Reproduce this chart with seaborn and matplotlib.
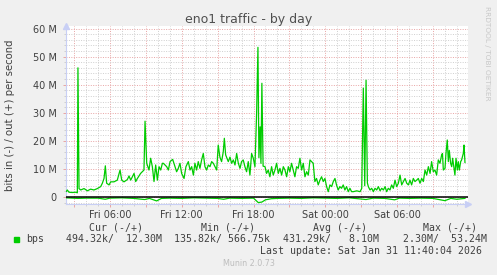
import numpy as np
import pandas as pd
import matplotlib
matplotlib.use("Agg")
import matplotlib.pyplot as plt
from matplotlib.ticker import MultipleLocator, FuncFormatter, FixedLocator
from matplotlib.patches import Rectangle
import seaborn as sns

# ---------------- data (hours since Fri 00:00, values in Mbit/s) ----------------
out_hours = [2.35, 2.43, 2.57, 2.85, 3.13, 3.27, 3.32, 3.41, 3.55, 3.83, 4.11, 4.38, 4.66, 4.94,
             5.22, 5.36, 5.50, 5.61, 5.72, 5.92, 6.06, 6.33, 6.61, 6.84, 6.98, 7.17, 7.45, 7.59,
             7.73, 7.87, 8.01, 8.15, 8.29, 8.56, 8.84, 8.93, 9.07, 9.26, 9.40, 9.54, 9.68, 9.82,
             9.96, 10.10, 10.24, 10.38, 10.46, 10.74, 10.88, 11.02, 11.24, 11.43, 11.57, 11.71,
             11.85, 11.99, 12.19, 12.35, 12.55, 12.69, 12.83, 12.97, 13.10, 13.24, 13.38, 13.52,
             13.66, 13.80, 13.94, 14.08, 14.22, 14.36, 14.50, 14.64, 14.78, 14.92, 15.05, 15.19,
             15.33, 15.47, 15.56, 15.67, 15.89, 16.03, 16.17, 16.31, 16.45, 16.59, 16.73, 16.87,
             17.00, 17.14, 17.28, 17.42, 17.56, 17.70, 17.84, 17.98, 18.12, 18.26, 18.37, 18.45,
             18.55, 18.62, 18.70, 18.80, 18.96, 19.09, 19.23, 19.37, 19.51, 19.65, 19.79, 19.93,
             20.07, 20.21, 20.35, 20.49, 20.63, 20.77, 20.91, 21.04, 21.18, 21.32, 21.46, 21.60,
             21.74, 21.88, 22.02, 22.16, 22.30, 22.44, 22.58, 22.72, 22.86, 22.99, 23.13, 23.27,
             23.41, 23.55, 23.69, 23.83, 23.97, 24.11, 24.25, 24.39, 24.53, 24.67, 24.81, 24.94,
             25.08, 25.22, 25.36, 25.50, 25.64, 25.78, 25.92, 26.06, 26.20, 26.35, 26.63, 26.91,
             27.05, 27.18, 27.30, 27.41, 27.52, 27.60, 27.74, 27.88, 28.02, 28.16, 28.30, 28.44,
             28.58, 28.72, 28.86, 29.00, 29.13, 29.27, 29.41, 29.55, 29.69, 29.83, 29.97, 30.11,
             30.25, 30.39, 30.53, 30.67, 30.81, 30.95, 31.08, 31.22, 31.36, 31.50, 31.64, 31.78,
             31.92, 32.06, 32.20, 32.34, 32.48, 32.62, 32.76, 32.89, 33.03, 33.17, 33.31, 33.45,
             33.59, 33.73, 33.80, 33.87, 34.01, 34.09, 34.20, 34.29, 34.37, 34.48, 34.57, 34.65,
             34.76, 34.84, 34.93, 35.04, 35.12, 35.21, 35.32, 35.40, 35.54, 35.60, 35.68]
out_mbps = [2.0, 2.5, 1.7, 1.6, 1.7, 1.5, 46.0, 3.0, 2.5, 3.0, 2.2, 2.8, 2.5, 3.0,
            3.7, 4.9, 6.6, 11.1, 4.9, 4.3, 5.4, 5.4, 6.0, 9.6, 6.0, 5.4, 6.2, 7.5,
            6.0, 7.2, 8.4, 5.5, 6.6, 8.4, 9.6, 27.0, 12.0, 9.6, 13.8, 10.8, 5.5, 11.4,
            6.0, 10.8, 9.6, 12.0, 12.0, 10.8, 9.6, 12.6, 13.4, 10.8, 9.0, 10.2,
            12.0, 8.4, 6.6, 10.8, 12.6, 9.6, 10.8, 7.8, 12.0, 9.6, 12.6, 10.2,
            13.2, 15.5, 10.8, 9.6, 11.4, 10.8, 12.6, 12.0, 10.8, 9.6, 18.5, 14.2,
            12.6, 16.1, 20.9, 15.0, 12.6, 14.2, 12.0, 13.2, 11.4, 15.5, 12.0, 10.2,
            12.6, 13.2, 10.8, 9.0, 12.6, 7.8, 15.5, 13.8, 10.8, 30.0, 53.3, 14.0,
            25.0, 12.0, 40.5, 11.0, 10.8, 8.4, 9.6, 7.2, 10.8, 7.8, 9.6, 12.0,
            8.4, 10.2, 7.8, 10.8, 9.6, 7.2, 10.8, 9.0, 12.0, 9.6, 7.2, 10.8,
            10.2, 13.8, 9.6, 12.0, 7.2, 9.0, 7.8, 13.2, 12.6, 12.0, 5.5, 6.6,
            4.3, 6.0, 7.2, 5.5, 6.6, 3.7, 1.9, 4.3, 3.7, 5.5, 6.6, 4.3,
            2.5, 3.7, 3.1, 4.3, 2.5, 3.7, 1.9, 3.1, 1.9, 1.9, 2.2, 1.9,
            3.1, 38.8, 4.0, 41.6, 5.0, 3.7, 2.5, 3.1, 1.9, 3.1, 2.5, 3.7,
            2.2, 3.1, 2.5, 3.7, 1.9, 3.1, 2.5, 4.3, 3.1, 6.0, 3.7, 4.9,
            7.8, 4.3, 5.5, 6.6, 4.9, 4.3, 6.0, 4.3, 6.6, 5.5, 6.0, 6.6,
            4.9, 6.6, 5.5, 9.6, 7.8, 10.8, 8.4, 12.6, 9.0, 9.6, 7.8, 13.2,
            12.0, 15.0, 15.5, 9.6, 10.2, 15.5, 20.3, 12.6, 16.6, 12.0, 10.8, 13.8,
            10.2, 7.8, 13.8, 9.6, 12.6, 9.6, 12.6, 13.2, 15.5, 18.5, 12.3]

in_hours = [2.35, 3.3, 4.0, 5.0, 5.6, 6.0, 7.0, 8.0, 8.9, 9.3, 9.9, 10.3, 11.0, 12.0, 13.0,
            14.0, 15.0, 15.5, 16.0, 17.0, 18.0, 18.4, 18.7, 19.0, 19.5, 20.0, 21.0, 22.0,
            23.0, 24.0, 25.0, 26.0, 27.2, 27.4, 28.0, 29.0, 29.8, 30.2, 31.0, 32.0, 33.0,
            34.0, 34.5, 35.0, 35.68]
in_mbps = [0.3, 0.5, 0.4, 0.4, 0.8, 0.4, 0.3, 0.5, 0.9, 0.5, 1.4, 0.5, 0.4, 0.5, 0.3,
           0.4, 0.5, 0.8, 0.4, 0.5, 0.4, 2.0, 1.8, 1.0, 0.6, 0.5, 0.4, 0.5,
           0.3, 0.4, 0.5, 0.3, 0.8, 0.9, 0.4, 0.5, 1.0, 0.4, 0.5, 0.4, 0.5,
           1.3, 0.5, 0.8, 0.49]

label_hours = [6, 12, 18, 24, 30]
label_texts = ["Fri 06:00", "Fri 12:00", "Fri 18:00", "Sat 00:00", "Sat 06:00"]
y_ticks_m = [0, 10, 20, 30, 40, 50, 60]

legend_header = ["Cur (-/+)", "Min (-/+)", "Avg (-/+)", "Max (-/+)"]
legend_values = ["494.32k/  12.30M", "135.82k/ 566.75k", "431.29k/   8.10M", "2.30M/  53.24M"]

# ---------------- figure ----------------
W, H = 497, 275
fig = plt.figure(figsize=(W / 100, H / 100), dpi=100, facecolor="#F0F0F0")

def fx(px):
    return px / W

def fy(py):
    return 1 - py / H

ax_l, ax_r, ax_t, ax_b = 66, 468, 26, 204
ax = fig.add_axes([fx(ax_l), fy(ax_b), fx(ax_r - ax_l), (ax_b - ax_t) / H])
ax.set_facecolor("white")

df_out = pd.DataFrame({"hour": out_hours, "bps": np.array(out_mbps) * 1e6})
df_in = pd.DataFrame({"hour": in_hours, "bps": -np.array(in_mbps) * 1e6})

green = "#00CC00"
sns.lineplot(data=df_in, x="hour", y="bps", ax=ax, color=green, lw=0.9,
             estimator=None, sort=False, zorder=3)
sns.lineplot(data=df_out, x="hour", y="bps", ax=ax, color=green, lw=0.9,
             estimator=None, sort=False, zorder=3)
ax.axhline(0, color="black", lw=1.1, zorder=4)

# scales
px_per_h = 11.96
x0 = 6 + (ax_l - 110) / px_per_h
x1 = 6 + (ax_r - 110) / px_per_h
ax.set_xlim(x0, x1)
px_per_m = (197 - 28.5) / 60e6
ax.set_ylim(-(ax_b - 197) / px_per_m, 60e6 + (28.5 - ax_t) / px_per_m)

# ticks / grid
major_x = list(range(3, 36, 3))
lab_map = dict(zip(label_hours, label_texts))
ax.xaxis.set_major_locator(FixedLocator(major_x))
ax.xaxis.set_major_formatter(FuncFormatter(lambda v, p: lab_map.get(int(round(v)), "")))
ax.xaxis.set_minor_locator(MultipleLocator(1))
ax.yaxis.set_major_locator(FixedLocator([v * 1e6 for v in y_ticks_m]))
ax.yaxis.set_minor_locator(MultipleLocator(2e6))
ax.yaxis.set_major_formatter(FuncFormatter(lambda v, p: "0" if abs(v) < 1 else f"{int(round(v / 1e6))} M"))

mgrid = "#e8a4a4"
grid = "#cfcfcf"
ax.grid(which="minor", color=grid, ls=(0, (1, 1.5)), lw=0.7, zorder=1)
ax.grid(which="major", color=mgrid, ls=(0, (1, 1.5)), lw=0.7, zorder=2)
ax.set_axisbelow(True)
ax.tick_params(axis="both", which="major", length=2.5, width=0.7, color=mgrid,
               labelsize=7, labelcolor="#404040", pad=2)
ax.tick_params(axis="both", which="minor", length=1.5, width=0.7, color=grid)
ax.tick_params(axis="y", pad=4)

for s in ["top", "right"]:
    ax.spines[s].set_visible(False)
axis_col = "#c8cff5"
for s in ["left", "bottom"]:
    ax.spines[s].set_color(axis_col)
    ax.spines[s].set_linewidth(0.8)
ax.set_xlabel("")
ax.set_ylabel("")

# arrows
ax.plot([0], [1.0], transform=ax.transAxes, marker="^", ms=4, color=axis_col,
        clip_on=False, zorder=5)
ax.plot([1.0], [0], transform=ax.transAxes, marker=">", ms=4, color=axis_col,
        clip_on=False, zorder=5)

# texts
txt = "#404040"
fig.text(fx(248.5), fy(20), "eno1 traffic - by day", ha="center", va="center",
         fontsize=9, color="#505050")
fig.text(fx(10), fy(115), "bits in (-) / out (+) per second", rotation=90,
         ha="center", va="center", fontsize=7.3, color=txt)
fig.text(fx(487.5), fy(53), "RRDTOOL / TOBI OETIKER", rotation=270, ha="center",
         va="center", fontsize=5.3, color="#c8c8c8")

mono = "DejaVu Sans Mono"
fs = 7.1
for xpx, s in zip([89, 201, 313, 423], legend_header):
    fig.text(fx(xpx), fy(227.7), s, family=mono, fontsize=fs, color=txt, va="center")
fig.patches.append(Rectangle((fx(14), fy(242)), fx(5), 5 / H, transform=fig.transFigure,
                             color=green, figure=fig))
fig.text(fx(26.5), fy(239.3), "bps", family=mono, fontsize=fs, color=txt, va="center")
for xpx, s in zip([66, 174, 283, 403], legend_values):
    fig.text(fx(xpx), fy(239.3), s, family=mono, fontsize=fs, color=txt, va="center")
fig.text(fx(482), fy(251), "Last update: Sat Jan 31 11:40:04 2026", family=mono,
         fontsize=fs, color=txt, va="center", ha="right")
fig.text(fx(248.5), fy(264), "Munin 2.0.73", fontsize=5.8, color="#bdbdbd",
         ha="center", va="center")

fig.savefig("out.png", dpi=100, facecolor=fig.get_facecolor())
